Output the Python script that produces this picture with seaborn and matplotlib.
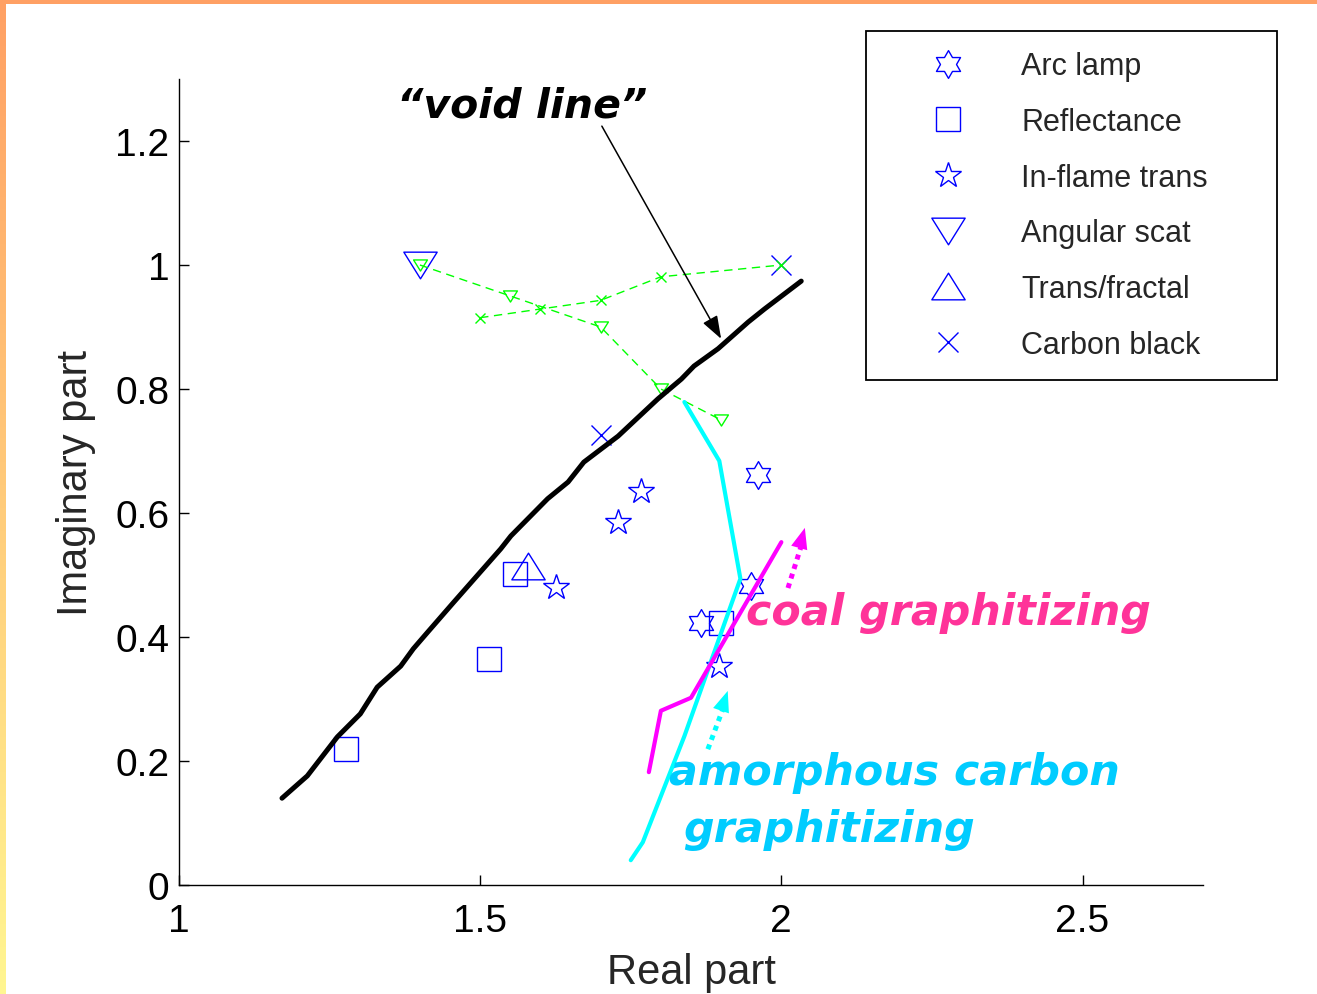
import numpy as np
import matplotlib
matplotlib.use("Agg")
import matplotlib.pyplot as plt
from matplotlib.path import Path
from matplotlib.patches import Rectangle
import seaborn as sns

# ---- optical constants (real part n, imaginary part k) ----
arc_lamp_n = [1.962, 1.950, 1.867]
arc_lamp_k = [0.661, 0.482, 0.423]
reflect_n = [1.278, 1.514, 1.557, 1.899]
reflect_k = [0.219, 0.365, 0.502, 0.423]
inflame_n = [1.767, 1.728, 1.626, 1.897]
inflame_k = [0.636, 0.585, 0.481, 0.354]
angular_n = [1.40]
angular_k = [1.00]
fractal_n = [1.58]
fractal_k = [0.515]
carbon_n = [2.00, 1.70]
carbon_k = [1.00, 0.726]

# wavelength trends of the angular-scattering and carbon-black sets
angular_trend_n = [1.40, 1.55, 1.70, 1.80, 1.90]
angular_trend_k = [1.00, 0.95, 0.90, 0.80, 0.75]
carbon_trend_n = [1.50, 1.60, 1.70, 1.80, 2.00]
carbon_trend_k = [0.915, 0.929, 0.943, 0.981, 1.00]

# "void line"
void_n = [1.171, 1.213, 1.263, 1.301, 1.329, 1.368, 1.389, 1.413, 1.456,
          1.534, 1.551, 1.612, 1.646, 1.672, 1.729, 1.795, 1.834, 1.855,
          1.895, 1.945, 1.972, 2.033]
void_k = [0.140, 0.176, 0.239, 0.276, 0.319, 0.353, 0.381, 0.408, 0.456,
          0.542, 0.563, 0.623, 0.650, 0.682, 0.724, 0.784, 0.816, 0.837,
          0.865, 0.908, 0.929, 0.974]

# graphitization paths
amorph_n = [1.839, 1.897, 1.932, 1.839, 1.770, 1.750]
amorph_k = [0.779, 0.684, 0.494, 0.240, 0.069, 0.040]
coal_n = [1.780, 1.800, 1.850, 2.000]
coal_k = [0.182, 0.281, 0.302, 0.553]

legend_labels = ["Arc lamp", "Reflectance", "In-flame trans",
                 "Angular scat", "Trans/fractal", "Carbon black"]
x_ticks = [1, 1.5, 2, 2.5]
x_tick_labels = ["1", "1.5", "2", "2.5"]
y_ticks = [0, 0.2, 0.4, 0.6, 0.8, 1.0, 1.2]
y_tick_labels = ["0", "0.2", "0.4", "0.6", "0.8", "1", "1.2"]

sns.set_style("ticks")
plt.rcParams["font.family"] = ["Liberation Sans", "DejaVu Sans"]
plt.rcParams["xtick.direction"] = "in"
plt.rcParams["ytick.direction"] = "in"

W, H = 1317, 995
fig = plt.figure(figsize=(W / 100, H / 100), dpi=100)
fig.patch.set_facecolor("white")

# decorative slide frame: orange band on top, orange-to-yellow band at left
top_c = np.array([255, 160, 100]) / 255
bot_c = np.array([255, 246, 145]) / 255
grad = np.linspace(0, 1, 256)[:, None, None]
band = top_c * (1 - grad) + bot_c * grad
bax = fig.add_axes([0, 0, 6 / W, 1])
bax.imshow(band, aspect="auto", extent=[0, 1, 0, 1])
bax.set_axis_off()
fig.patches.append(Rectangle((0, 1 - 5 / H), 1, 5 / H, transform=fig.transFigure,
                             facecolor=top_c, edgecolor="none", zorder=5))

ax = fig.add_axes([179 / W, 1 - 886 / H, (1203 - 179) / W, (886 - 80) / H])

# marker shapes
hexagram = Path([(np.cos(np.pi / 2 + k * np.pi / 6) * (1 if k % 2 == 0 else 1 / np.sqrt(3)),
                  np.sin(np.pi / 2 + k * np.pi / 6) * (1 if k % 2 == 0 else 1 / np.sqrt(3)))
                 for k in range(12)] + [(0, 1)], closed=True)
tri_up = Path([(-1, -0.8), (1, -0.8), (0, 0.8), (-1, -0.8)], closed=True)
tri_down = Path([(-1, 0.8), (1, 0.8), (0, -0.8), (-1, 0.8)], closed=True)

BLUE = "#0000FF"
GREEN = "#00FF00"

def blue_points(xs, ys, marker, ms, label):
    sns.lineplot(x=xs, y=ys, ax=ax, sort=False, estimator=None, legend=False,
                 color=BLUE, linestyle="none", marker=marker, markersize=ms,
                 markerfacecolor="none", markeredgecolor=BLUE,
                 markeredgewidth=1.0, label=label)
    return ax.lines[-1]

h_arc = blue_points(arc_lamp_n, arc_lamp_k, hexagram, 20, legend_labels[0])
h_ref = blue_points(reflect_n, reflect_k, "s", 17, legend_labels[1])
h_inf = blue_points(inflame_n, inflame_k, "*", 19, legend_labels[2])
h_ang = blue_points(angular_n, angular_k, tri_down, 24, legend_labels[3])
h_fra = blue_points(fractal_n, fractal_k, tri_up, 24, legend_labels[4])
h_cb = blue_points(carbon_n, carbon_k, "x", 14, legend_labels[5])

# green dashed spectral trends
sns.lineplot(x=angular_trend_n, y=angular_trend_k, ax=ax, sort=False, estimator=None,
             legend=False, color=GREEN, linewidth=1.0, linestyle=(0, (6, 4)),
             marker=tri_down, markersize=10, markerfacecolor="none",
             markeredgecolor=GREEN, markeredgewidth=1.0)
sns.lineplot(x=carbon_trend_n, y=carbon_trend_k, ax=ax, sort=False, estimator=None,
             legend=False, color=GREEN, linewidth=1.0, linestyle=(0, (6, 4)),
             marker="x", markersize=7, markerfacecolor="none",
             markeredgecolor=GREEN, markeredgewidth=1.0)

# void line and graphitization paths
sns.lineplot(x=void_n, y=void_k, ax=ax, sort=False, estimator=None, legend=False,
             color="black", linewidth=3.6)
sns.lineplot(x=amorph_n, y=amorph_k, ax=ax, sort=False, estimator=None, legend=False,
             color="#00FFFF", linewidth=3.0)
sns.lineplot(x=coal_n, y=coal_k, ax=ax, sort=False, estimator=None, legend=False,
             color="#FF00FF", linewidth=3.0)

# dotted direction arrows
def dotted_arrow(start, base, tip, color):
    ax.plot([start[0], base[0]], [start[1], base[1]], color=color, linewidth=3.6,
            linestyle=(0, (1, 1)), dash_capstyle="butt")
    ax.annotate("", xy=tip, xytext=start,
                arrowprops=dict(arrowstyle="-|>,head_length=0.75,head_width=0.3",
                                mutation_scale=20, lw=0, color=color,
                                shrinkA=0, shrinkB=0))

dotted_arrow((2.011, 0.479), (2.033, 0.547), (2.039, 0.576), "#FF00FF")
dotted_arrow((1.878, 0.219), (1.903, 0.284), (1.911, 0.313), "#00FFFF")

# annotations
ax.annotate("", xy=(1.900, 0.881), xytext=(1.702, 1.224),
            arrowprops=dict(arrowstyle="-|>,head_length=0.7,head_width=0.25",
                            mutation_scale=20, lw=1.1, color="black",
                            shrinkA=0, shrinkB=0))
ax.text(1.569, 1.240, "\u201cvoid line\u201d", ha="center", va="baseline",
        fontsize=29.5, fontweight="bold", fontstyle="italic", family="DejaVu Sans",
        color="black")
ax.text(1.942, 0.421, "coal graphitizing", ha="left", va="baseline",
        fontsize=30.8, fontweight="bold", fontstyle="italic", family="DejaVu Sans",
        color="#FF3399")
ax.text(1.814, 0.163, "amorphous carbon", ha="left", va="baseline",
        fontsize=30.8, fontweight="bold", fontstyle="italic", family="DejaVu Sans",
        color="#00CCFF")
ax.text(1.837, 0.071, "graphitizing", ha="left", va="baseline",
        fontsize=30.8, fontweight="bold", fontstyle="italic", family="DejaVu Sans",
        color="#00CCFF")

# axes styling
ax.set_xlim(1, 2.7)
ax.set_ylim(0, 1.3)
ax.set_xticks(x_ticks)
ax.set_xticklabels(x_tick_labels)
ax.set_yticks(y_ticks)
ax.set_yticklabels(y_tick_labels)
ax.tick_params(axis="both", direction="in", length=7, width=1, colors="black",
               labelsize=28)
ax.tick_params(axis="y", pad=7)
ax.tick_params(axis="x", pad=13)
for side in ("top", "right"):
    ax.spines[side].set_visible(False)
for side in ("left", "bottom"):
    ax.spines[side].set_color("black")
    ax.spines[side].set_linewidth(1.0)
ax.set_xlabel("Real part", fontsize=30, labelpad=9)
ax.set_ylabel("Imaginary part", fontsize=30, labelpad=14)
ax.set_facecolor("white")

leg = ax.legend(handles=[h_arc, h_ref, h_inf, h_ang, h_fra, h_cb],
                labels=legend_labels, loc="upper left",
                bbox_to_anchor=(866 / W, 1 - 32 / H, (1277 - 866) / W, 0),
                bbox_transform=fig.transFigure, mode="expand", borderaxespad=0,
                fontsize=22, frameon=True, fancybox=False, framealpha=1,
                edgecolor="black", borderpad=0.67, handlelength=4.0,
                handletextpad=0.41, labelspacing=0.84, numpoints=1)
leg.get_frame().set_linewidth(1.3)

fig.savefig("out.png", dpi=100, facecolor="white")
